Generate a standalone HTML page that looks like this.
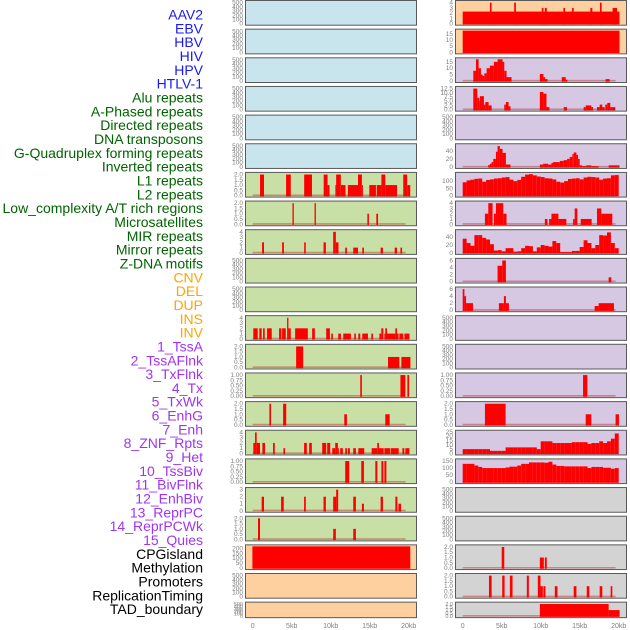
<!DOCTYPE html>
<html><head><meta charset="utf-8"><style>
html,body{margin:0;padding:0;background:#fff}
svg{display:block}
text{font-family:"Liberation Sans",sans-serif}
</style></head><body>
<svg id="chart" width="630" height="630" viewBox="0 0 630 630" xmlns="http://www.w3.org/2000/svg"></svg>
<script>
// ---- Labels ----
const trackLabels = ["AAV2","EBV","HBV","HIV","HPV","HTLV-1","Alu repeats","A-Phased repeats","Directed repeats","DNA transposons","G-Quadruplex forming repeats","Inverted repeats","L1 repeats","L2 repeats","Low_complexity A/T rich regions","Microsatellites","MIR repeats","Mirror repeats","Z-DNA motifs","CNV","DEL","DUP","INS","INV","1_TssA","2_TssAFlnk","3_TxFlnk","4_Tx","5_TxWk","6_EnhG","7_Enh","8_ZNF_Rpts","9_Het","10_TssBiv","11_BivFlnk","12_EnhBiv","13_ReprPC","14_ReprPCWk","15_Quies","CPGisland","Methylation","Promoters","ReplicationTiming","TAD_boundary"];
const labelGroups = [6,13,5,15,5];
const xTickValues = [0,5,10,15,20];
const xTickLabels = ["0","5kb","10kb","15kb","20kb"];

// ---- Left column segment data [startKb, endKb, value] ----
const left6 = [[0.94,1.45,2],[4.28,4.88,2],[6.6,7.6,2],[9.1,9.6,2],[9.6,9.85,1],[10.6,10.7,1],[10.7,11.3,2],[11.3,11.9,1],[12.2,13.5,1],[13.5,14.0,2],[14.0,14.1,1],[14.95,15.8,1],[15.9,16.5,1],[16.5,17.0,2],[17.0,18.5,1],[19.3,19.8,2],[19.8,20.2,1]];
const left7 = [[5.1,5.27,2],[7.93,8.1,2],[14.7,14.9,1],[15.85,16.07,1]];
const left8 = [[1.2,1.45,2],[3.77,4.0,2],[6.6,6.8,2],[9.08,9.38,2],[10.32,10.66,4],[10.66,11.0,2],[11.86,12.08,1],[12.89,13.5,1],[14.05,14.26,1],[16.4,16.7,1],[18.2,18.5,1],[18.94,19.15,1]];
const left11 = [[0.08,0.64,2],[0.85,1.15,2],[1.33,1.54,2],[1.84,2.44,2],[3.38,3.68,2],[3.77,4.24,2],[4.41,4.58,4],[4.58,4.88,2],[5.44,7.07,2],[7.62,7.97,2],[9.42,9.9,2],[10.07,10.28,1],[10.97,11.31,1],[11.61,12.59,1],[13.02,13.23,1],[13.54,13.79,1],[14.05,14.78,1],[15.21,15.42,1],[16.24,16.49,1],[16.49,16.75,2],[16.88,17.0,1],[17.0,17.22,2],[17.22,18.29,1],[18.29,18.5,2],[18.5,18.7,1],[18.8,19.3,1],[19.45,20.1,1]];
const left12 = [[5.57,6.47,2],[17.35,18.8,1],[19.06,20.22,1]];
const left13 = [[13.79,14.0,1],[18.94,19.57,1],[19.83,20.05,1]];
const left14 = [[2.14,2.35,2],[3.9,4.3,2],[11.74,12.08,1],[17.0,17.56,1]];
const left15 = [[0.08,0.3,2],[0.3,0.51,4],[0.51,0.94,2],[1.24,1.58,2],[2.61,2.83,2],[3.94,4.15,1],[6.59,6.94,2],[7.24,7.58,2],[8.91,9.42,2],[9.55,9.94,2],[10.2,10.58,1],[10.58,10.92,2],[10.92,11.0,1],[11.22,11.56,1],[11.86,12.08,1],[12.2,12.46,1],[12.89,13.23,1],[13.54,14.3,1],[15.25,15.97,1],[15.97,16.19,2],[16.19,16.79,1],[16.88,17.65,1],[17.73,18.72,1],[19.19,19.44,1],[19.57,20.09,1]];
const left16 = [[11.86,12.37,1],[13.92,14.26,1],[15.72,15.98,1],[16.5,16.75,1],[16.88,17.14,1]];
const left17 = [[1.15,1.45,2],[3.64,3.98,2],[6.59,6.81,2],[9.08,9.38,2],[10.32,10.7,2],[10.7,10.96,3],[12.89,13.23,2],[14.0,14.26,1],[16.4,16.7,2],[18.29,18.55,2],[18.68,19.02,1]];
const left18 = [[0.68,0.94,2],[10.32,10.66,1],[12.89,13.23,1]];
const left19 = [[-0.04,20.2,220]];

// ---- Right column segment data ----
const right0 = [[0,20.1,2.3],[3.49,3.7,4],[6.6,6.82,4],[10.14,10.35,3],[10.53,10.78,3],[12.91,13.12,3],[14.02,14.23,3],[16.37,16.62,3],[17.6,17.81,4],[19.22,19.78,3]];
const right1 = [[0,20.1,17.5]];
const right2 = [[1.36,1.7,8],[1.7,2.04,17],[2.04,2.34,10],[2.34,2.55,5],[2.55,2.77,4],[2.77,3.07,6],[3.07,3.49,10],[3.49,4.0,12],[4.0,4.47,15],[4.47,5.11,17],[5.11,5.33,15],[5.33,5.62,8],[5.62,6.26,3],[9.89,10.35,5.5],[10.35,10.57,3],[10.57,10.87,1.5],[12.7,13.21,3],[13.21,13.42,1],[18.32,18.84,1.5]];
const right3 = [[1.36,1.87,12.5],[1.87,2.13,7],[2.13,2.21,5],[2.21,2.72,8],[2.72,2.9,3],[2.9,3.32,4.5],[3.32,3.71,2.5],[5.33,5.54,3],[5.54,5.88,4.5],[5.88,6.13,2],[9.89,10.35,10.5],[10.35,10.74,9.5],[10.74,11.12,1.5],[12.95,13.38,1.5],[15.51,15.77,1.5],[15.77,16.49,2.5],[16.49,16.71,1.5],[17.22,17.56,1.5],[17.56,17.9,3],[17.9,18.2,1.5],[18.28,18.54,3],[18.54,18.92,4],[18.92,19.56,1.5]];
const right5 = [[3.28,3.49,5],[3.49,3.71,8],[3.71,3.92,12],[3.92,4.26,20],[4.26,4.47,38],[4.47,4.77,52],[4.77,5.11,45],[5.11,5.54,35],[5.54,6.13,6],[9.89,10.31,6],[10.31,10.95,8],[10.95,11.38,6],[11.38,11.59,10],[11.59,12.45,12],[12.45,12.95,15],[12.95,13.38,17],[13.38,13.72,20],[13.72,14.06,25],[14.06,14.23,32],[14.23,14.58,36],[14.58,14.79,30],[14.79,15.0,20],[15.0,15.3,4],[15.3,15.85,2],[15.85,16.49,4],[16.49,17.43,2],[18.71,20.1,4]];
const right7 = [[2.85,3.28,2],[3.28,3.83,4],[4.0,4.26,2],[4.26,5.2,4],[5.2,5.62,2],[10.53,10.87,1],[11.08,11.38,1],[11.38,12.27,2],[12.27,13.29,1],[14.15,14.36,1],[14.36,14.7,3],[15.13,16.53,1],[17.22,17.77,3],[17.77,19.18,2]];
const right9 = [[4.47,5.07,4.5],[5.07,5.54,6],[18.71,19.05,1.2]];
const right10 = [[0,0.22,6],[0.22,0.43,4],[0.43,1.32,2],[4.64,5.28,2],[5.28,5.54,4],[5.54,5.92,2],[16.92,17.43,1.2],[17.43,19.39,2]];
const right13 = [[15.43,15.98,1]];
const right14 = [[2.85,5.5,2],[15.77,16.49,1],[19.6,20.03,1]];
const right19 = [[5.0,5.33,2],[9.89,10.4,1],[10.53,10.78,1]];
const right20 = [[3.37,3.71,2],[5.07,5.37,2],[6.05,6.39,2],[8.22,8.48,2],[9.63,9.97,2],[9.97,10.27,1],[10.35,10.61,1],[11.81,12.15,1],[14.23,14.58,1],[15.9,16.24,1],[17.56,17.9,1],[18.97,19.18,1]];
const right21 = [[9.89,18.71,2],[18.71,20.12,1]];

// ---- Right column binned profiles (0.5 kb bins from 0 kb) ----
const right6Profile = [92,105,110,116,118,96,108,112,118,120,125,128,110,100,108,130,145,148,140,132,128,120,118,112,96,90,100,115,118,120,112,125,130,128,125,110,118,120,140,142];
const right8Profile = [36,25,18,45,45,38,34,22,6,7,4,12,12,3,4,12,18,17,4,14,20,18,16,30,25,2,2,2,5,5,15,32,25,12,20,45,44,52,25,12];
const right15Profile = [5,5,5,5,5,5,5,3,3,3,3,7,7,7,7,7,7,7,7,5,14,14,14,12,12,12,12,12,13,13,13,13,11,12,12,14,12,14,17,23];
const right16Profile = [130,130,130,118,108,100,100,100,100,100,100,104,110,110,118,130,130,140,140,140,140,138,145,125,115,115,112,112,112,112,112,112,100,108,108,108,102,102,95,100];

// ---- Tick sets ----
const ticksEmpty = [0,100,200,300,400,500];
const ticks2 = [0,0.5,1,1.5,2];
const ticks4 = [0,1,2,3,4];
const ticks3 = [0,1,2,3];
const ticks1 = [0,0.25,0.5,0.75,1];
const ticks200 = [0,50,100,150,200];
const ticks15 = [0,5,10,15];
const ticks125 = [0,2.5,5,7.5,10,12.5];
const ticks40 = [0,20,40];
const ticks100 = [0,50,100];
const ticks6 = [0,2,4,6];
const ticks25 = [0,5,10,15,20,25];
const ticks150 = [0,50,100,150];

const BLUE="#c8e4ec",GREEN="#c8e0a5",ORANGE="#fed0a0",PURPLE="#d6c7e3",GRAY="#d3d3d3";
function fmt(ticks,v){
  if(ticks===ticks2) return v.toFixed(1);
  if(ticks===ticks1) return v.toFixed(2);
  if(ticks===ticks125) return v.toFixed(1);
  return String(v);
}
const leftRows = [
 {c:BLUE,t:ticksEmpty},{c:BLUE,t:ticksEmpty},{c:BLUE,t:ticksEmpty},{c:BLUE,t:ticksEmpty},{c:BLUE,t:ticksEmpty},{c:BLUE,t:ticksEmpty},
 {c:GREEN,t:ticks2,d:left6},{c:GREEN,t:ticks2,d:left7},{c:GREEN,t:ticks4,d:left8},{c:GREEN,t:ticksEmpty},{c:GREEN,t:ticksEmpty},
 {c:GREEN,t:ticks4,d:left11},{c:GREEN,t:ticks2,d:left12},{c:GREEN,t:ticks1,d:left13},{c:GREEN,t:ticks2,d:left14},{c:GREEN,t:ticks4,d:left15},
 {c:GREEN,t:ticks1,d:left16},{c:GREEN,t:ticks3,d:left17},{c:GREEN,t:ticks2,d:left18},{c:ORANGE,t:ticks200,d:left19,m:220},
 {c:ORANGE,t:ticksEmpty},{c:ORANGE,t:ticksEmpty}
];
const rightRows = [
 {c:ORANGE,t:ticks4,d:right0},{c:ORANGE,t:ticks15,d:right1,m:17.5},{c:PURPLE,t:ticks15,d:right2,m:17},{c:PURPLE,t:ticks125,d:right3},
 {c:PURPLE,t:ticksEmpty},{c:PURPLE,t:ticks40,d:right5,m:54},{c:PURPLE,t:ticks100,p:right6Profile,m:150},{c:PURPLE,t:ticks4,d:right7},
 {c:PURPLE,t:ticks40,p:right8Profile,m:55},{c:PURPLE,t:ticks6,d:right9},{c:PURPLE,t:ticks6,d:right10},{c:PURPLE,t:ticksEmpty},{c:PURPLE,t:ticksEmpty},
 {c:PURPLE,t:ticks1,d:right13},{c:PURPLE,t:ticks2,d:right14},{c:PURPLE,t:ticks25,p:right15Profile,m:25},{c:PURPLE,t:ticks150,p:right16Profile},
 {c:GRAY,t:ticksEmpty},{c:GRAY,t:ticksEmpty},{c:GRAY,t:ticks2,d:right19},{c:GRAY,t:ticks2,d:right20},{c:GRAY,t:ticks2,d:right21}
];

const NS="http://www.w3.org/2000/svg";
const svg=document.getElementById('chart');
function mk(tag,attrs,parent){const e=document.createElementNS(NS,tag);for(const k in attrs)e.setAttribute(k,attrs[k]);(parent||svg).appendChild(e);return e;}

// labels
const groupColors=["#1a1aee","#006400","#ffa500","#a035f0","#000000"];
const labelGroup=mk('g',{});


let gi=0,cnt=0;
trackLabels.forEach((lab,i)=>{
  if(cnt>=labelGroups[gi]){gi++;cnt=0;}
  cnt++;
  const t=mk('text',{x:203,y:19.5+i*13.83,'text-anchor':'end','font-size':'14',fill:groupColors[gi]},labelGroup);
  
  
  t.textContent=lab;
});

const PITCH=28.65, PW=171;
function drawColumn(rows,left,colName){
  const x0=left+7.7, kx=7.8;
  const xs=kb=>x0+kb*kx;
  rows.forEach((r,i)=>{
    const top=i*PITCH, h=(i===21?15.5:24.7), bottom=top+h;
    const g=mk('g',{});
    
    
    const bg=mk('rect',{x:left+0.5,y:top+0.5,width:PW,height:h,fill:r.c,stroke:'#5a5a5a','stroke-width':1},g);
    
    
    const tmax=r.t[r.t.length-1];
    const dmax=r.m||tmax*1.03;
    const ys=v=>bottom-1-v/dmax*(h-3);
    // y ticks
    r.t.forEach(v=>{
      const tt=mk('text',{x:left-2,y:ys(v)+2,'text-anchor':'end','font-size':(i===21?'5.5':'6.5'),fill:'#808080'},g);
      
      
      tt.textContent=fmt(r.t,v);
    });
    if(!r.d && !r.p) return;
    // baseline
    const bl=mk('line',{x1:xs(0),x2:xs(19.6),y1:ys(0)-0.3,y2:ys(0)-0.3,stroke:'rgba(190,40,40,0.45)','stroke-width':1.6},g);
    
    
    let segs=r.d||[];
    if(r.p){segs=r.p.map((v,k)=>[k*0.5,(k+1)*0.5,v]);}
    segs.forEach(s=>{
      const yv=Math.max(ys(s[2]),top+1);
      const b=mk('rect',{x:xs(s[0]),y:yv,width:Math.max(xs(s[1])-xs(s[0]),1),height:ys(0)-yv+0.7,fill:'#ff0000'},g);
      
      
    });
  });
  // x ticks
  xTickValues.forEach((v,k)=>{
    const t=mk('text',{x:xs(v),y:628,'text-anchor':'middle','font-size':'7',fill:'#808080'});
    
    
    t.textContent=xTickLabels[k];
  });
}
drawColumn(leftRows,245,'left');
drawColumn(rightRows,455,'right');
</script>
</body></html>
